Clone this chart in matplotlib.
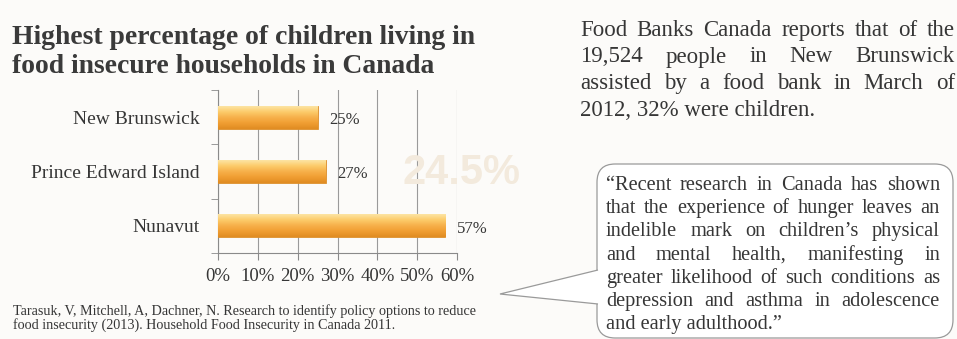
import numpy as np
import matplotlib.pyplot as plt
from matplotlib.patches import FancyBboxPatch, Polygon

# datos del gráfico
provinces = ["New Brunswick", "Prince Edward Island", "Nunavut"]
percent = [25, 27, 57]
xticks = [0, 10, 20, 30, 40, 50, 60]
xtick_labels = ["0%", "10%", "20%", "30%", "40%", "50%", "60%"]

title_lines = ["Highest percentage of children living in",
               "food insecure households in Canada"]
side_lines = ["Food Banks Canada reports that of the",
              "19,524 people in New Brunswick",
              "assisted by a food bank in March of",
              "2012, 32% were children."]
quote_lines = ["\u201cRecent research in Canada has shown",
               "that the experience of hunger leaves an",
               "indelible mark on children\u2019s physical",
               "and mental health, manifesting in",
               "greater likelihood of such conditions as",
               "depression and asthma in adolescence",
               "and early adulthood.\u201d"]
source_lines = ["Tarasuk, V, Mitchell, A, Dachner, N. Research to identify policy options to reduce",
                "food insecurity (2013). Household Food Insecurity in Canada 2011."]

W, H = 957, 339
SERIF = "Liberation Serif"
TXT = "#363636"

fig = plt.figure(figsize=(W / 100, H / 100), dpi=100, facecolor="#fcfbf9")
R = fig.canvas.get_renderer()


def fx(px):
    return px / W


def fy(py):
    return 1 - py / H


def fit_size(lines, width, **kw):
    # tamaño de letra para que la línea más larga ocupe "width" píxeles
    t = fig.text(0, 0, "", fontsize=10, family=SERIF, **kw)
    widest = 0
    for line in lines:
        t.set_text(line)
        widest = max(widest, t.get_window_extent(R).width)
    t.remove()
    return 10 * width / widest


def justify(lines, x0, x1, y0, dy, size):
    # texto justificado: se reparte el espacio entre palabras
    for i, line in enumerate(lines):
        y = fy(y0 + i * dy)
        words = line.split()
        if i == len(lines) - 1:
            fig.text(fx(x0), y, line, fontsize=size, family=SERIF, color=TXT, va="baseline")
            continue
        ts = [fig.text(0, y, w, fontsize=size, family=SERIF, color=TXT, va="baseline") for w in words]
        widths = [t.get_window_extent(R).width for t in ts]
        gap = ((x1 - x0) - sum(widths)) / (len(words) - 1)
        x = x0
        for t, w in zip(ts, widths):
            t.set_x(fx(x))
            x += w + gap


# marca de agua de fondo
fig.text(fx(462), fy(173), "24.5%", fontsize=30, fontweight="bold", family="Liberation Sans",
         color="#f3eadd", ha="center", va="center", zorder=0)

# título
s_title = fit_size(title_lines[:1], 466, fontweight="bold")
for i, line in enumerate(title_lines):
    fig.text(fx(12), fy(44 + i * 29), line, fontsize=s_title, fontweight="bold",
             family=SERIF, color="#3a3a3a", va="baseline")

# gráfico de barras
ax = fig.add_axes([fx(218), fy(253), fx(457) - fx(218), fy(90) - fy(253)])
ax.patch.set_alpha(0)
y = np.arange(len(provinces))
bars = ax.barh(y, percent, height=0.42, color="#f5a83a", edgecolor="#dc8f2c", linewidth=0.6, zorder=3)

cm = plt.matplotlib.colors.LinearSegmentedColormap.from_list(
    "naranja", ["#fde4a3", "#fccb6a", "#f7b04a", "#f09e32", "#e08c22"])
for b in bars:
    x0, y0, w, h = b.get_x(), b.get_y(), b.get_width(), b.get_height()
    im = ax.imshow(np.linspace(0, 1, 50).reshape(-1, 1), cmap=cm, aspect="auto",
                   extent=(x0, x0 + w, y0 + h, y0), origin="upper", zorder=3.5,
                   interpolation="bicubic")
    im.set_clip_path(b)

for yi, v in zip(y, percent):
    ax.text(v + 3, yi + 0.05, f"{v}%", fontsize=12, family=SERIF, color=TXT, va="center")

ax.set_xlim(0, 60)
ax.set_ylim(2.5, -0.5)
ax.set_xticks(xticks)
ax.set_xticklabels(xtick_labels, fontsize=13.5, family=SERIF, color=TXT)
ax.set_yticks(y)
ax.set_yticklabels(provinces, fontsize=14, family=SERIF, color=TXT)
ax.set_yticks([-0.5, 0.5, 1.5, 2.5], minor=True)
ax.tick_params(axis="y", which="major", length=0, pad=13)
ax.tick_params(axis="y", which="minor", length=5, color="#8a8a8a", direction="out")
ax.tick_params(axis="x", length=5, color="#8a8a8a", pad=6)
ax.grid(axis="x", color="#9a9a9a", linewidth=0.8, zorder=1)
for s in ["top", "right"]:
    ax.spines[s].set_visible(False)
for s in ["left", "bottom"]:
    ax.spines[s].set_color("#8a8a8a")
    ax.spines[s].set_linewidth(0.8)

# fuente
s_src = fit_size(source_lines[:1], 462)
for i, line in enumerate(source_lines):
    fig.text(fx(13), fy(315 + i * 13.5), line, fontsize=s_src, family=SERIF, color=TXT, va="baseline")

# texto lateral
justify(side_lines, 580, 955, 36, 26.5, 0.95 * fit_size(side_lines[:1], 372))

# bocadillo con la cita
box = FancyBboxPatch((fx(597), fy(338)), fx(953) - fx(597), fy(164) - fy(338),
                     boxstyle="round,pad=0,rounding_size=0.019", transform=fig.transFigure,
                     facecolor="white", edgecolor="#9a9a9a", linewidth=0.9, zorder=1,
                     mutation_aspect=W / H)
fig.patches.append(box)
tail = Polygon([(fx(598), fy(270)), (fx(500), fy(294)), (fx(598), fy(304))], closed=False,
               transform=fig.transFigure, facecolor="white", edgecolor="#9a9a9a",
               linewidth=0.9, zorder=2)
fig.patches.append(tail)
justify(quote_lines, 606, 940, 190, 23.2, 0.97 * fit_size(quote_lines, 330))

plt.savefig("out.png", dpi=100, facecolor=fig.get_facecolor())
